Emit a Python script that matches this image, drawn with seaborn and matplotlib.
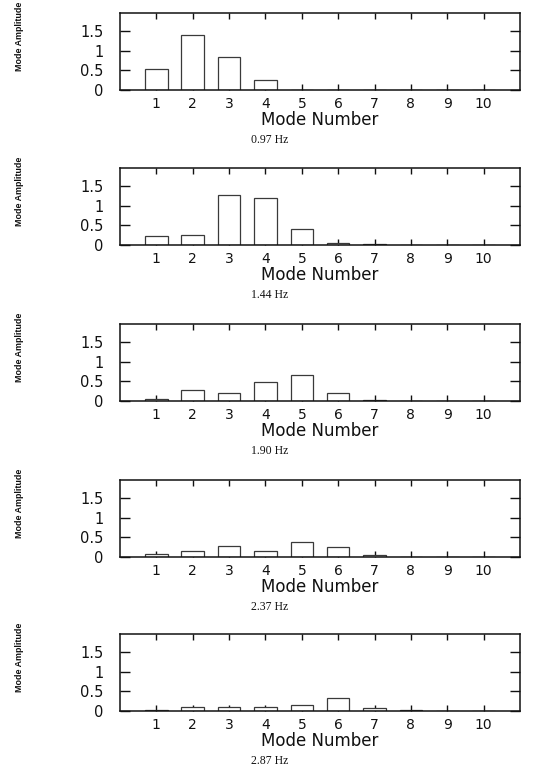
import numpy as np
import pandas as pd
import matplotlib
matplotlib.use("Agg")
import matplotlib.pyplot as plt
import seaborn as sns

# ---- data ----
modes = [1, 2, 3, 4, 5, 6, 7, 8, 9, 10]
freq_labels = ["0.97 Hz", "1.44 Hz", "1.90 Hz", "2.37 Hz", "2.87 Hz"]
amp_097 = [0.53, 1.40, 0.85, 0.26, 0.01, 0.01, 0.00, 0.00, 0.00, 0.00]
amp_144 = [0.22, 0.25, 1.28, 1.20, 0.42, 0.04, 0.02, 0.01, 0.00, 0.00]
amp_190 = [0.05, 0.28, 0.20, 0.48, 0.67, 0.20, 0.03, 0.01, 0.00, 0.00]
amp_237 = [0.07, 0.15, 0.27, 0.16, 0.37, 0.26, 0.06, 0.01, 0.00, 0.00]
amp_287 = [0.02, 0.10, 0.10, 0.09, 0.15, 0.32, 0.07, 0.02, 0.00, 0.00]
yticks = [0, 0.5, 1, 1.5]
ytick_labels = ["0", "0.5", "1", "1.5"]
all_amps = [amp_097, amp_144, amp_190, amp_237, amp_287]

sns.set_style("ticks")
plt.rcParams["font.family"] = ["DejaVu Sans"]

W, H = 534, 769
fig = plt.figure(figsize=(W / 100, H / 100), dpi=100)

tops = [13, 168, 324, 480, 634]
ax_h = 77
left_px, right_px = 120, 520

for top, amps, flab in zip(tops, all_amps, freq_labels):
    ax = fig.add_axes([left_px / W, 1 - (top + ax_h) / H,
                       (right_px - left_px) / W, ax_h / H])
    df = pd.DataFrame({"Mode Number": modes, "Amplitude": amps})
    sns.barplot(data=df, x="Mode Number", y="Amplitude", native_scale=True,
                width=0.62, color="white", edgecolor="#3a3a3a", linewidth=0.9,
                errorbar=None, ax=ax)
    ax.set_xlim(0, 11)
    ax.set_ylim(0, 1.96)
    ax.set_xticks(modes)
    ax.set_xticklabels([str(m) for m in modes])
    ax.set_yticks(yticks)
    ax.set_yticklabels(ytick_labels)
    for sp in ax.spines.values():
        sp.set_visible(True)
        sp.set_linewidth(1.1)
        sp.set_color("#111111")
    ax.tick_params(axis="x", direction="in", top=True, bottom=True, length=4,
                   width=1.0, labelsize=10, pad=5, colors="#111111")
    ax.tick_params(axis="y", direction="in", left=True, right=True, length=7,
                   width=1.0, labelsize=10.5, pad=12, colors="#111111")
    ax.set_xlabel("Mode Number", fontsize=12, labelpad=0, color="#111111")
    ax.set_ylabel("Mode Amplitude", fontsize=6.4, fontweight="bold",
                  family=["Liberation Sans", "DejaVu Sans"],
                  color="#111111")
    ax.yaxis.set_label_coords((24 - left_px) / (right_px - left_px), 0.70)
    ax.text(0.375, -0.65, flab, transform=ax.transAxes, ha="center",
            va="center", fontsize=8.5, family=["Liberation Serif", "DejaVu Serif"],
            color="#111111")

fig.savefig("out.png", dpi=100)
